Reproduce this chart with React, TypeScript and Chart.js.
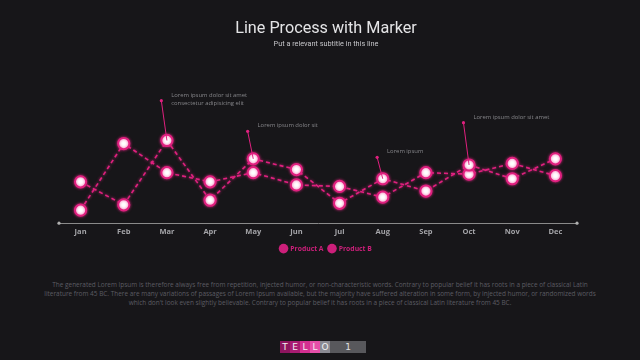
import React, { useEffect, useRef } from "react";
import { Chart, registerables } from "chart.js";

Chart.register(...registerables);

const months = ["Jan", "Feb", "Mar", "Apr", "May", "Jun", "Jul", "Aug", "Sep", "Oct", "Nov", "Dec"];
const productA = [27, 12, 54, 15, 42, 35, 13, 29, 21, 38, 29, 42];
const productB = [8.5, 52, 33, 27, 33, 25, 24, 17, 33, 32, 39, 31];
const seriesNames = ["Product A", "Product B"];

const noteMonths = ["Mar", "May", "Aug", "Oct"];
const noteTops = [80, 60, 43, 65.6];
const noteTexts = [
  ["Lorem ipsum dolor sit amet", "consectetur adipisicing elit"],
  ["Lorem ipsum dolor sit"],
  ["Lorem ipsum"],
  ["Lorem ipsum dolor sit amet"],
];

const paragraphLines = [
  "The generated Lorem Ipsum is therefore always free from repetition, injected humor, or non-characteristic words. Contrary to popular belief it has roots in a piece of classical Latin",
  "literature from 45 BC. There are many variations of passages of Lorem Ipsum available, but the majority have suffered alteration in some form, by injected humor, or randomized words",
  "which don't look even slightly believable. Contrary to popular belief it has roots in a piece of classical Latin literature from 45 BC.",
];

const logoLetters = ["T", "E", "L", "L", "O"];
const logoColors = ["#8e155f", "#a81c72", "#d42f91", "#e64fa9", "#8a8a92"];

const PINK = "#e0207f";
const LEGEND_PINK = "#cc1f7a";
const BG = "#171619";

const notesPlugin = {
  id: "notes",
  afterDatasetsDraw(chart: any) {
    const ctx = chart.ctx;
    const meta = chart.getDatasetMeta(0);
    const yScale = chart.scales.y;
    ctx.save();
    noteMonths.forEach((m, i) => {
      const idx = months.indexOf(m);
      const pt = meta.data[idx];
      const px = pt.x;
      const py = pt.y;
      const dx = px - 5.6;
      const dy = yScale.getPixelForValue(noteTops[i]);
      ctx.strokeStyle = PINK;
      ctx.lineWidth = 1;
      ctx.beginPath();
      ctx.moveTo(dx, dy);
      ctx.lineTo(px, py);
      ctx.stroke();
      ctx.fillStyle = PINK;
      ctx.beginPath();
      ctx.arc(dx, dy, 1.6, 0, Math.PI * 2);
      ctx.fill();
      ctx.fillStyle = "#86868a";
      ctx.font = "5.9px 'Open Sans'";
      ctx.textAlign = "left";
      ctx.textBaseline = "middle";
      noteTexts[i].forEach((t, j) => {
        ctx.fillText(t, px + 4.3, dy - 5.5 + j * 8.3);
      });
    });
    const xs = chart.scales.x;
    const area = chart.chartArea;
    ctx.fillStyle = "#b0b0b0";
    [xs.left, xs.right].forEach((x: number) => {
      ctx.beginPath();
      ctx.arc(x, area.bottom, 1.6, 0, Math.PI * 2);
      ctx.fill();
    });
    ctx.restore();
  },
};

const glowPlugin = {
  id: "glow",
  beforeDatasetsDraw(chart: any) {
    const ctx = chart.ctx;
    ctx.save();
    ctx.shadowColor = "rgba(240,40,140,0.8)";
    ctx.shadowBlur = 3;
  },
  afterDatasetsDraw(chart: any) {
    chart.ctx.restore();
  },
};

export default function App() {
  const ref = useRef<HTMLCanvasElement>(null);

  useEffect(() => {
    document.body.style.margin = "0";
    document.body.style.background = BG;
    const mk = (label: string, data: number[]) => ({
      label,
      data,
      borderColor: PINK,
      borderWidth: 1.6,
      borderDash: [4, 3],
      backgroundColor: "#ffffff",
      pointBackgroundColor: "#ffffff",
      pointBorderColor: PINK,
      pointBorderWidth: 2,
      pointRadius: 5.6,
      pointStyle: "circle",
      tension: 0,
    });
    const chart = new Chart(ref.current as HTMLCanvasElement, {
      type: "line",
      data: {
        labels: months,
        datasets: [mk(seriesNames[0], productA), mk(seriesNames[1], productB)],
      },
      options: {
        animation: false,
        responsive: false,
        maintainAspectRatio: false,
        layout: { padding: { left: 59, right: 47, top: 0, bottom: 3 } },
        scales: {
          x: {
            offset: true,
            grid: { display: false, drawTicks: false },
            border: { display: true, color: "#8a8a8a", width: 1 },
            ticks: {
              color: "#a4a4a8",
              padding: 4,
              font: { family: "'Open Sans'", size: 7.5, weight: "bold" },
            },
          },
          y: {
            display: false,
            min: 0,
            max: 100,
          },
          yPad: {
            type: "linear",
            position: "right",
            display: true,
            grid: { display: false, drawTicks: false },
            border: { display: false },
            ticks: { display: false },
            afterFit: (s: any) => {
              s.width = 16;
            },
          },
        },
        plugins: {
          title: {
            display: true,
            text: "Line Process with Marker",
            color: "#e4e4e6",
            font: { family: "Roboto", size: 16.2, weight: "normal", lineHeight: 1.2 },
            padding: { top: 19, bottom: 1 },
          },
          subtitle: {
            display: true,
            text: "Put a relevant subtitle in this line",
            color: "#c4c4c8",
            font: { family: "Roboto", size: 7.3, lineHeight: 1.2 },
            padding: { top: 0.5, bottom: 21.3 },
          },
          legend: {
            position: "bottom",
            labels: {
              usePointStyle: true,
              color: LEGEND_PINK,
              padding: 5,
              font: { family: "'Open Sans'", size: 6.8, weight: "bold" },
              generateLabels: (c: any) =>
                c.data.datasets.map((d: any, i: number) => ({
                  text: d.label,
                  fillStyle: LEGEND_PINK,
                  strokeStyle: LEGEND_PINK,
                  lineWidth: 0,
                  pointStyle: "circle",
                  fontColor: LEGEND_PINK,
                  datasetIndex: i,
                  hidden: false,
                })),
            },
          },
          tooltip: { enabled: false },
        },
      },
      plugins: [glowPlugin, notesPlugin],
    } as any);
    return () => chart.destroy();
  }, []);

  return (
    <div
      style={{
        position: "fixed",
        left: 0,
        top: 0,
        width: 640,
        height: 360,
        background: BG,
        overflow: "hidden",
        fontFamily: "'Open Sans', sans-serif",
      }}
    >
      <canvas ref={ref} width={640} height={265} style={{ position: "absolute", left: 0, top: 0, width: 640, height: 265 }} />
      <div
        style={{
          position: "absolute",
          left: 0,
          top: 280,
          width: 640,
          textAlign: "center",
          color: "#5c5c63",
          fontSize: 6.45,
          lineHeight: "9px",
        }}
      >
        {paragraphLines.map((l, i) => (
          <div key={i} style={{ whiteSpace: "nowrap" }}>
            {l}
          </div>
        ))}
      </div>
      <div style={{ position: "absolute", left: 280, top: 341, height: 12, display: "flex" }}>
        {logoLetters.map((ch, i) => (
          <div
            key={i}
            style={{
              width: 10,
              height: 12,
              background: logoColors[i],
              color: "#f2f2f2",
              fontSize: 9,
              lineHeight: "12px",
              textAlign: "center",
              fontFamily: "'DejaVu Sans', sans-serif",
            }}
          >
            {ch}
          </div>
        ))}
        <div
          style={{
            width: 36,
            height: 12,
            background: "#58585c",
            color: "#e0e0e0",
            fontSize: 9,
            lineHeight: "12px",
            textAlign: "center",
            fontFamily: "'DejaVu Sans', sans-serif",
          }}
        >
          1
        </div>
      </div>
    </div>
  );
}
